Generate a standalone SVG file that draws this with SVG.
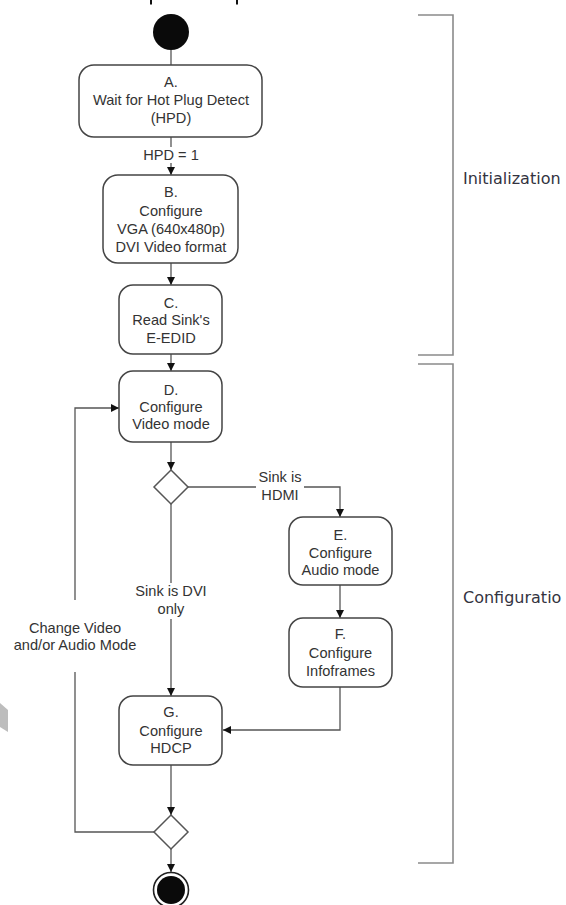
<svg xmlns="http://www.w3.org/2000/svg" width="566" height="905" viewBox="0 0 566 905">
  <style>
    .node rect { fill: #ffffff; stroke: #444444; stroke-width: 1.5; }
    .node text, .lbl { font-family: "Liberation Sans", Arial, sans-serif; font-size: 14.6px; fill: #333333; text-anchor: middle; }
    .edge { fill: none; stroke: #555555; stroke-width: 1.3; }
    .arr { marker-end: url(#ah); }
    .diamond { fill: #ffffff; stroke: #555555; stroke-width: 1.5; }
    .bracket { fill: none; stroke: #8a8a8a; stroke-width: 1.6; }
    .phase { font-family: "DejaVu Sans", Verdana, sans-serif; font-size: 16px; fill: #333340; }
    .bg { fill: #ffffff; }
  </style>
  <defs>
    <marker id="ah" viewBox="0 0 10 10" refX="10" refY="5" markerWidth="8" markerHeight="8" markerUnits="userSpaceOnUse" orient="auto">
      <path d="M0,0 L10,5 L0,10 z" fill="#111111"/>
    </marker>
  </defs>

  <rect width="566" height="905" fill="#ffffff"/>

  <!-- small marks at the top edge and the grey wedge on the left -->
  <line x1="151" y1="0" x2="151" y2="4.5" stroke="#111" stroke-width="2"/>
  <line x1="237" y1="0" x2="237" y2="4.5" stroke="#111" stroke-width="2"/>
  <polygon points="0,703 8,710 8,732 0,727" fill="#bdbdbd"/>

  <!-- connectors -->
  <g id="connectors">
    <line class="edge" x1="171" y1="50" x2="171" y2="65"/>
    <line class="edge arr" x1="171" y1="137" x2="171" y2="175"/>
    <rect class="bg" x="140" y="147" width="62" height="16"/>
    <text class="lbl" x="171" y="160">HPD = 1</text>
    <line class="edge arr" x1="171" y1="263" x2="171" y2="285"/>
    <line class="edge arr" x1="171" y1="354" x2="171" y2="371"/>
    <line class="edge arr" x1="171" y1="442" x2="171" y2="470"/>
    <!-- HDMI branch -->
    <polyline class="edge arr" points="188,487 340,487 340,517"/>
    <rect class="bg" x="256" y="470" width="48" height="34"/>
    <text class="lbl" x="280" y="482">Sink is</text>
    <text class="lbl" x="280" y="500">HDMI</text>
    <line class="edge arr" x1="340" y1="585" x2="340" y2="618"/>
    <polyline class="edge arr" points="340,687 340,730 223,730"/>
    <!-- DVI branch -->
    <line class="edge arr" x1="171" y1="503" x2="171" y2="696"/>
    <rect class="bg" x="130" y="583" width="82" height="36"/>
    <text class="lbl" x="171" y="596">Sink is DVI</text>
    <text class="lbl" x="171" y="614">only</text>
    <line class="edge arr" x1="171" y1="765" x2="171" y2="815"/>
    <line class="edge arr" x1="171" y1="849" x2="171" y2="872"/>
    <!-- loop back to D -->
    <polyline class="edge arr" points="154,832 75,832 75,408 119,408"/>
    <rect class="bg" x="8" y="600" width="134" height="72"/>
    <text class="lbl" x="75" y="633">Change Video</text>
    <text class="lbl" x="75" y="650">and/or Audio Mode</text>
  </g>

  <!-- start -->
  <g id="start">
    <circle cx="171" cy="32" r="18" fill="#0a0a0a"/>
  </g>

  <g id="nodeA" class="node">
    <rect x="79" y="65" width="183" height="72" rx="15"/>
    <text x="171" y="87">A.</text>
    <text x="171" y="105">Wait for Hot Plug Detect</text>
    <text x="171" y="123">(HPD)</text>
  </g>

  <g id="nodeB" class="node">
    <rect x="103" y="175" width="135" height="88" rx="15"/>
    <text x="171" y="197">B.</text>
    <text x="171" y="216">Configure</text>
    <text x="171" y="234">VGA (640x480p)</text>
    <text x="171" y="252">DVI Video format</text>
  </g>

  <g id="nodeC" class="node">
    <rect x="119" y="285" width="103" height="69" rx="14"/>
    <text x="171" y="308">C.</text>
    <text x="171" y="325">Read Sink's</text>
    <text x="171" y="343">E-EDID</text>
  </g>

  <g id="nodeD" class="node">
    <rect x="119" y="371" width="103" height="71" rx="14"/>
    <text x="171" y="395">D.</text>
    <text x="171" y="412">Configure</text>
    <text x="171" y="429">Video mode</text>
  </g>

  <g id="decision1">
    <polygon class="diamond" points="171,470 188,487 171,504 154,487"/>
  </g>

  <g id="nodeE" class="node">
    <rect x="289" y="517" width="103" height="68" rx="14"/>
    <text x="340.5" y="540">E.</text>
    <text x="340.5" y="558">Configure</text>
    <text x="340.5" y="575">Audio mode</text>
  </g>

  <g id="nodeF" class="node">
    <rect x="289" y="618" width="103" height="69" rx="14"/>
    <text x="340.5" y="639">F.</text>
    <text x="340.5" y="658">Configure</text>
    <text x="340.5" y="676">Infoframes</text>
  </g>

  <g id="nodeG" class="node">
    <rect x="119" y="696" width="103" height="69" rx="14"/>
    <text x="171" y="717">G.</text>
    <text x="171" y="736">Configure</text>
    <text x="171" y="753">HDCP</text>
  </g>

  <g id="decision2">
    <polygon class="diamond" points="171,815 188,832 171,849 154,832"/>
  </g>

  <g id="end">
    <circle cx="171" cy="890" r="17.5" fill="#ffffff" stroke="#222" stroke-width="1.6"/>
    <circle cx="171" cy="890" r="14" fill="#0a0a0a"/>
  </g>

  <!-- phase brackets -->
  <g id="phaseInit">
    <polyline class="bracket" points="418,15 453,15 453,355 418,355"/>
    <text class="phase" x="463" y="184">Initialization</text>
  </g>
  <g id="phaseConfig">
    <polyline class="bracket" points="418,364 453,364 453,863 418,863"/>
    <text class="phase" x="463" y="603">Configuratio</text>
  </g>
</svg>
